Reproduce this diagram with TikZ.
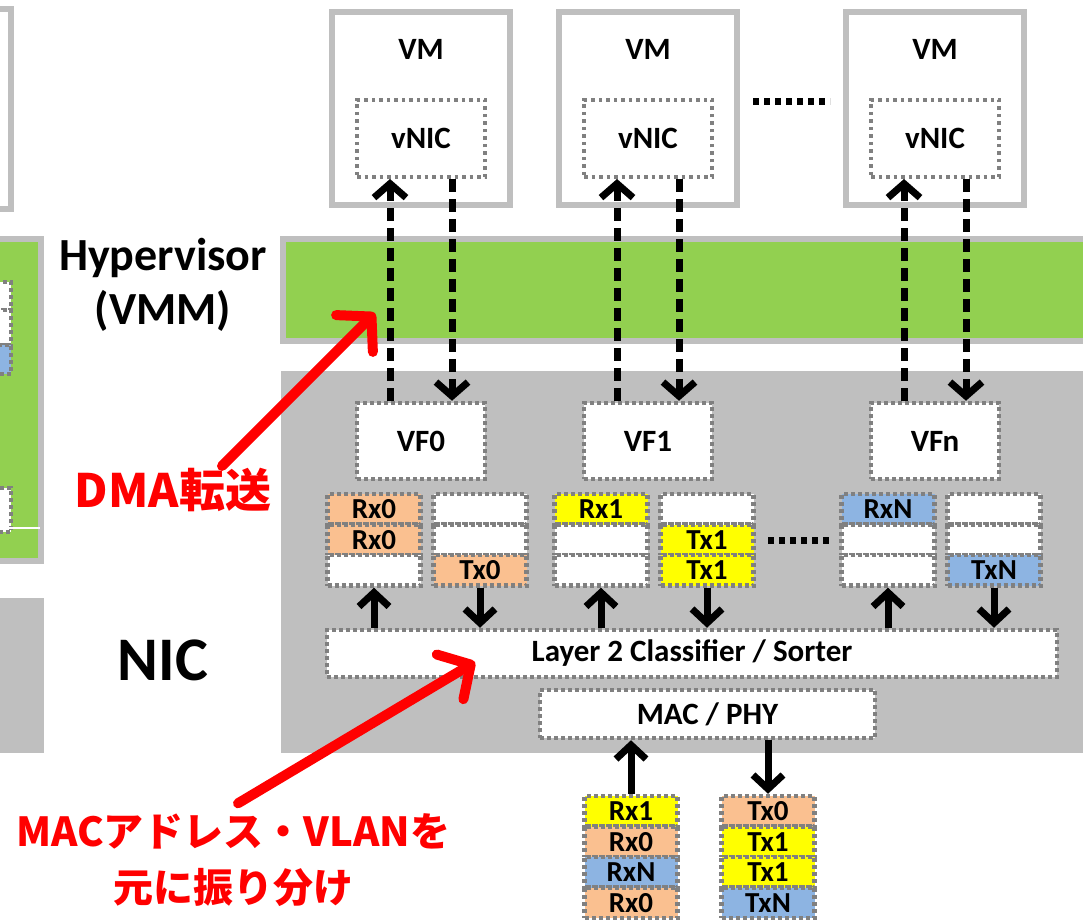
\documentclass[tikz,border=0pt]{standalone}
\usepackage{fontspec}
\setmainfont{Carlito}
\newfontfamily\jp{Noto Sans CJK JP}
\usetikzlibrary{arrows.meta}
\definecolor{hvgreen}{HTML}{92D050}
\definecolor{boxgray}{HTML}{BFBFBF}
\definecolor{dotgray}{HTML}{808080}
\definecolor{qorange}{HTML}{FAC090}
\definecolor{qblue}{HTML}{8DB4E2}
\definecolor{qyellow}{HTML}{FFFF00}
\begin{document}
\begin{tikzpicture}[x=1pt,y=-1pt,font=\bfseries\fontsize{31}{37}\selectfont,
  vmbox/.style={draw=boxgray,line width=6pt,fill=white,minimum width=178pt,minimum height=193pt,inner sep=0pt},
  dotbox/.style={draw=dotgray,line width=4.5pt,dash pattern=on 4pt off 3pt,fill=white,inner sep=0pt},
  vnicbox/.style={dotbox,line width=4pt,dash pattern=on 3.5pt off 4pt,minimum width=128pt,minimum height=77pt},
  vfbox/.style={dotbox,minimum width=128pt,minimum height=76pt},
  qcell/.style={dotbox,minimum width=93pt,minimum height=30.5pt,font=\bfseries\fontsize{29}{30}\selectfont},
  dmaline/.style={line width=7pt,dash pattern=on 13pt off 7pt,-{Straight Barb[length=14pt,width=32pt]}},
  qline/.style={line width=7pt,-{Straight Barb[length=14pt,width=30pt]}},
  redline/.style={red,line width=10pt,line cap=round,-{Straight Barb[length=24pt,width=52pt,round]}},
  redtext/.style={red,inner sep=2pt,font=\jp\bfseries\fontsize{46}{54}\selectfont}]
  \useasboundingbox (0,0) rectangle (1083,920);
  \clip (0,0) rectangle (1083,920);
  % host on the left, cut off
  \draw[boxgray,line width=6pt] (-20,9) rectangle (11,209);
  \draw[boxgray,line width=6pt,fill=hvgreen] (-20,239) rectangle (41,561);
  \draw[dotbox] (-20,282) rectangle (11,310);
  \draw[dotbox] (-20,310) rectangle (11,345);
  \draw[dotbox,fill=qblue] (-20,345) rectangle (11,374);
  \draw[dotbox] (-20,488) rectangle (11,532);
  \draw[white,line width=1.5pt] (0,528) -- (40,528);
  \fill[boxgray] (-20,598) rectangle (44,753);
  % hypervisor and NIC
  \draw[boxgray,line width=6pt,fill=hvgreen] (283,239) rectangle (1100,341);
  \fill[boxgray] (281,371) rectangle (1100,753);
  \node[font=\bfseries\fontsize{46}{54}\selectfont,align=center] (hv) at (163,285) {Hypervisor\\(VMM)};
  \node[font=\bfseries\fontsize{62}{70}\selectfont] (niclab) at (163,660) {NIC};
  \foreach \c/\n/\f in {421/0/VF0,648/1/VF1,935/n/VFn}{
    \node[vmbox] (vm\n) at (\c,108.5) {};
    \node (vmt\n) at (\c,49) {VM};
    \node[vnicbox] (vnic\n) at (\c,138.5) {vNIC};
    \node[vfbox] (vf\n) at (\c,441) {\f};
  }
  \draw[line width=7pt,dash pattern=on 6pt off 5pt] (753,102) -- (830,102);
  \draw[line width=7pt,dash pattern=on 6pt off 5pt] (768,540) -- (830,540);
  % queues
  \foreach \x/\q/\cells in {374/rx0/{qorange/Rx0,qorange/Rx0,white/},480/tx0/{white/,white/,qorange/Tx0},
      601/rx1/{qyellow/Rx1,white/,white/},707/tx1/{white/,qyellow/Tx1,qyellow/Tx1},
      888/rxn/{qblue/RxN,white/,white/},994/txn/{white/,white/,qblue/TxN}}{
    \foreach \f/\t [count=\i] in \cells
      \node[qcell,fill=\f] (\q\i) at (\x,{478.75+30.5*\i}) {\t};
  }
  \foreach \f/\t [count=\i] in {qyellow/Rx1,qorange/Rx0,qblue/RxN,qorange/Rx0}
    \node[qcell,fill=\f] (brx\i) at (631,{780.75+30.5*\i}) {\t};
  \foreach \f/\t [count=\i] in {qorange/Tx0,qyellow/Tx1,qyellow/Tx1,qblue/TxN}
    \node[qcell,fill=\f] (btx\i) at (768,{780.75+30.5*\i}) {\t};
  \node[dotbox,minimum width=730pt,minimum height=47pt] (cls) at (692,653.5) {Layer 2 Classifier / Sorter};
  \node[dotbox,minimum width=335pt,minimum height=48pt] (mac) at (707.5,714) {MAC / PHY};
  % connectors
  \foreach \n in {0,1,n}{
    \draw[dmaline] ([xshift=-31pt]vf\n.north) -- ([xshift=-31pt]vnic\n.south);
    \draw[dmaline] ([xshift=31pt]vnic\n.south) -- ([xshift=31pt]vf\n.north);
    \draw[qline] (cls.north -| rx\n3.south) -- (rx\n3.south);
    \draw[qline] (tx\n3.south) -- (cls.north -| tx\n3.south);
  }
  \draw[qline] (brx1.north) -- (mac.south -| brx1.north);
  \draw[qline] (mac.south -| btx1.north) -- (btx1.north);
  % notes
  \node[redtext] (dma) at (173,490) {DMA転送};
  \node[redtext,font=\jp\bfseries\fontsize{40}{56}\selectfont,align=center] (sorttxt) at (233,860) {MACアドレス・VLANを\\元に振り分け};
  \coordinate (dmatip) at (375,313);
  \coordinate (clstip) at (475,662);
  \draw[redline] ([xshift=49pt]dma.north) -- (dmatip);
  \draw[redline] ([xshift=5pt,yshift=8pt]sorttxt.north) -- (clstip);
\end{tikzpicture}
\end{document}
